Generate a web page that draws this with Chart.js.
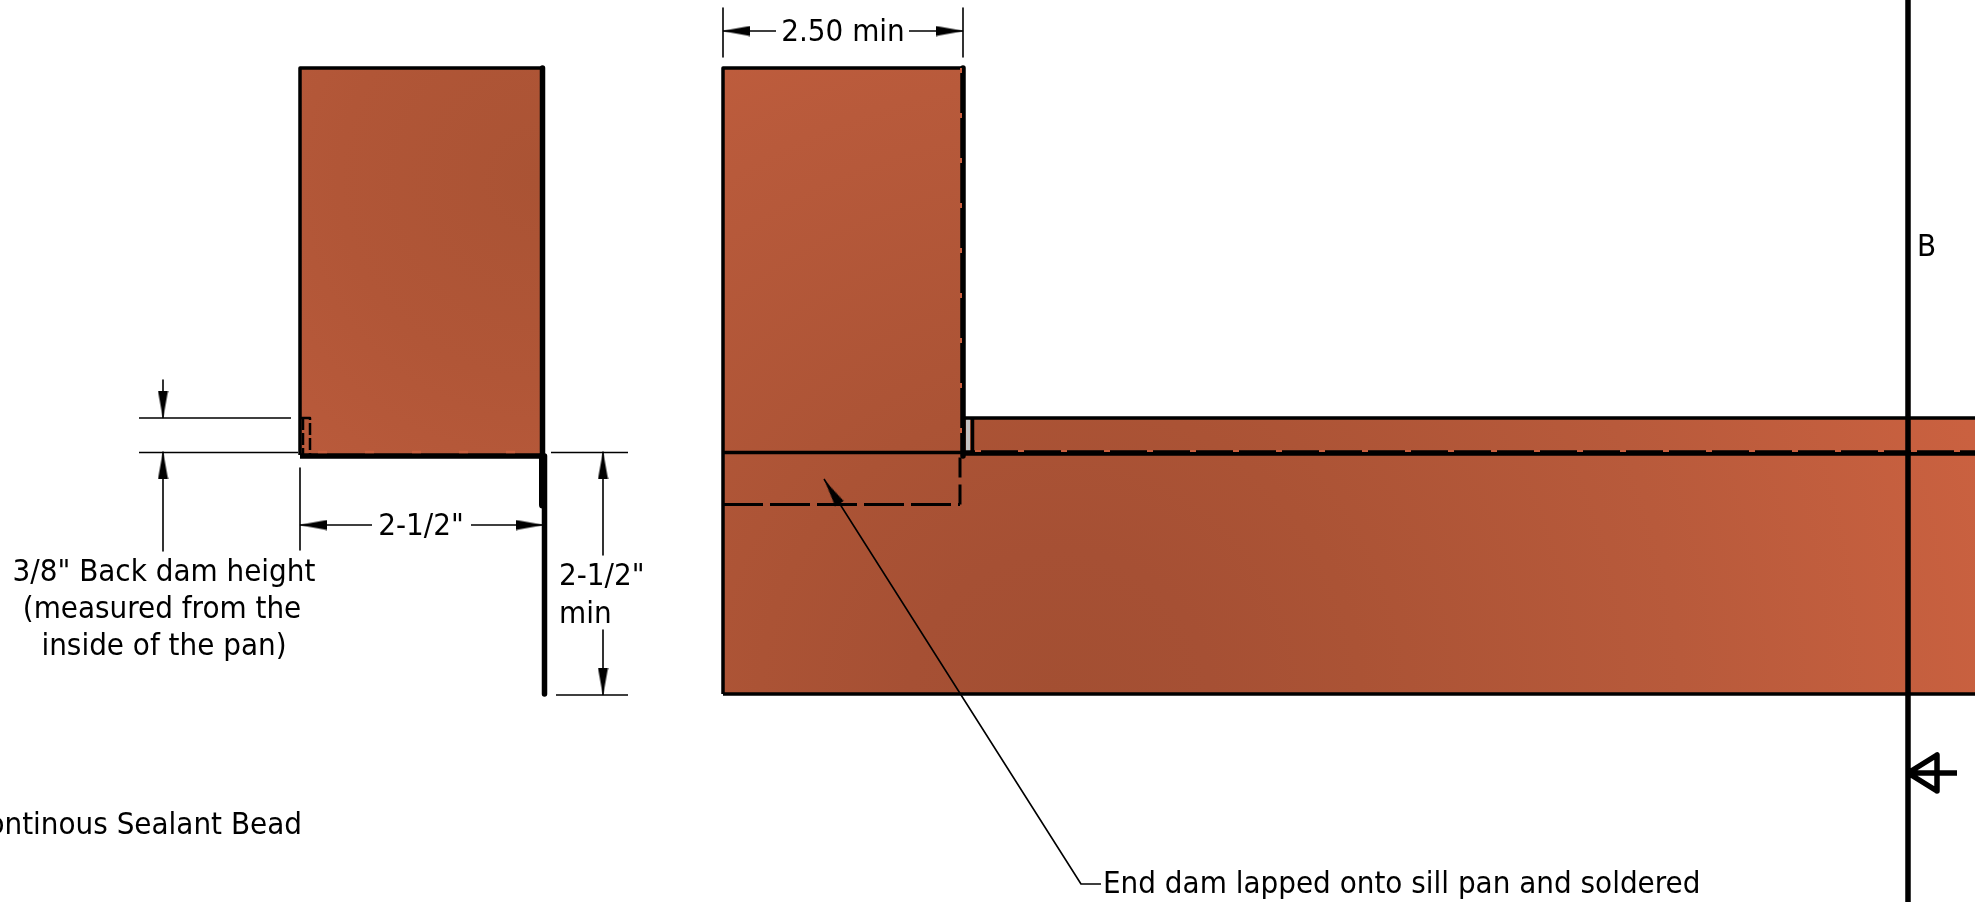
<!DOCTYPE html>
<html>
<head>
<meta charset="utf-8">
<title>Sill pan detail</title>
<script src="https://cdn.jsdelivr.net/npm/chart.js@4/dist/chart.umd.min.js"></script>
<style>
  html, body { margin: 0; padding: 0; background: #ffffff; }
  canvas { display: block; }
</style>
</head>
<body>
<canvas id="detail" width="1975" height="902"></canvas>
<script>
const thinX = [139, 291, null, 139, 298, null, 163, 163, null, 163, 163, null, 300, 300, null, 300, 372, null, 471, 543, null, 551, 628, null, 556, 628, null, 603, 603, null, 603, 603, null, 723, 723, null, 963, 963, null, 723, 776, null, 909, 963, null, 1101, 1081, 824];
const thinY = [418, 418, null, 452.5, 452.5, null, 380, 418, null, 452, 551, null, 468, 550, null, 525, 525, null, 525, 525, null, 452.5, 452.5, null, 695, 695, null, 452, 555, null, 630, 695, null, 8, 57, null, 8, 57, null, 31, 31, null, 31, 31, null, 884, 884, 479];

const outlineX = [300, 300, 543, null, 723, 723, 963, null, 723, 1975, null, 723, 963, null, 965, 1975, null, 972.5, 972.5];
const outlineY = [455, 68, 68, null, 694, 68, 68, null, 694, 694, null, 452.5, 452.5, null, 418, 418, null, 418, 452];

const heavyX = [542.5, 542.5, null, 300, 545, null, 544.5, 544.5, null, 963, 963, null, 963, 1975, null, 1908, 1908, null, 1957, 1908, 1937, 1937, 1908];
const heavyY = [68, 456, null, 456, 456, null, 456, 694, null, 68, 456, null, 453, 453, null, 0, 902, null, 773, 773, 755, 791, 773];

const flangeX = [542.5, 542.5];
const flangeY = [456, 505];

const hiddenDashX = [723, 960];
const hiddenDashY = [504.5, 504.5];
const hiddenEndX = [960, 960];
const hiddenEndY = [504.5, 455];
const backDamDashX = [303, 303, null, 300, 310, 310];
const backDamDashY = [418, 455, null, 418, 418, 455];

const backSolderX = [318, 540];
const backSolderY = [452, 452];
const sillSolderX = [975, 1906, null, 1911, 1975];
const sillSolderY = [451, 451, null, 451, 451];
const endSolderX = [961, 961];
const endSolderY = [68, 450];

const stripX = [968, 968];
const stripY = [420, 451];

const backDamFaceX = [300, 543];
const backDamFaceY = [68, 68];
const backDamFaceBase = 455;
const endDamFaceX = [723, 963, 963, 1975];
const endDamFaceY = [68, 68, 418, 418];
const endDamFaceBase = 694;

// arrow heads: centre of the head and its heading in degrees
const arrowX = [163, 163, 313, 530, 603, 603, 736, 950, 832];
const arrowY = [405, 465, 525, 525, 465, 682, 31, 31, 492];
const arrowHeading = [90, -90, 180, 0, -90, 90, 180, 0, -122.5];

const labelText = ['3/8" Back dam height', '(measured from the', 'inside of the pan)', '2-1/2"', '2-1/2"', 'min', 'Continous Sealant Bead', '2.50 min', 'B', 'End dam lapped onto sill pan and soldered'];
const labelX = [164, 162, 164, 421, 559, 559, 302, 843, 1917, 1103];
const labelY = [573, 610, 647, 527, 577, 615, 826, 33, 248, 885];
const labelAlign = ['center', 'center', 'center', 'center', 'left', 'left', 'right', 'center', 'left', 'left'];

const toPoints = (xs, ys) => xs.map((x, i) => ({ x: x, y: ys[i] }));

const stroke = (xs, ys, width, color, dash) => ({
    data: toPoints(xs, ys),
    showLine: true,
    pointRadius: 0,
    borderColor: color,
    borderWidth: width,
    borderDash: dash || [],
    borderCapStyle: 'butt',
    borderJoinStyle: 'round',
    fill: false,
    tension: 0
});

// Slim filled head, points to the right when heading is 0
const makeArrowHead = () => {
    const head = document.createElement('canvas');
    head.width = 28;
    head.height = 11;
    const g = head.getContext('2d');
    g.fillStyle = '#000000';
    g.beginPath();
    g.moveTo(0, 0.5);
    g.lineTo(28, 5.5);
    g.lineTo(0, 10.5);
    g.closePath();
    g.fill();
    return head;
};

const radial = (cx, cy, stops) => (context) => {
    const { chart } = context;
    if (!chart.chartArea) {
        return stops[1][1]; // scales are not laid out yet
    }
    const px = chart.scales.x.getPixelForValue(cx);
    const py = chart.scales.y.getPixelForValue(cy);
    const outer = stops[stops.length - 1][0];
    const gradient = chart.ctx.createRadialGradient(px, py, 0, px, py, outer);
    stops.forEach(s => gradient.addColorStop(s[0] / outer, s[1]));
    return gradient;
};

const face = (xs, ys, base, color) => ({
    data: toPoints(xs, ys),
    showLine: true,
    pointRadius: 0,
    borderWidth: 0,
    backgroundColor: color,
    fill: { target: { value: base } },
    tension: 0
});

// Text goes through the same scales as the marks
const labelPlugin = {
    id: 'drawingLabels',
    afterDatasetsDraw(chart) {
        const { ctx, scales } = chart;
        ctx.save();
        ctx.fillStyle = '#000000';
        ctx.font = '31px "DejaVu Sans Condensed", "DejaVu Sans"';
        ctx.textBaseline = 'middle';
        labelText.forEach((text, i) => {
            ctx.textAlign = labelAlign[i];
            ctx.fillText(text, scales.x.getPixelForValue(labelX[i]), scales.y.getPixelForValue(labelY[i]));
        });
        ctx.restore();
    }
};

const arrowHead = makeArrowHead();

// Index 0 is drawn last, so the fills sit at the end of the list
new Chart(document.querySelector('#detail'), {
    type: 'scatter',
    data: {
        datasets: [
            {
                data: toPoints(arrowX, arrowY),
                showLine: false,
                pointStyle: arrowHead,
                pointRotation: arrowHeading,
                pointRadius: 14
            },
            stroke(backSolderX, backSolderY, 2.5, '#c9603f', [9, 38]),
            stroke(sillSolderX, sillSolderY, 2, '#c9603f', [6, 37]),
            stroke(endSolderX, endSolderY, 2, '#c9603f', [5, 40]),
            stroke(heavyX, heavyY, 5.5, '#000000'),
            stroke(flangeX, flangeY, 7, '#000000'),
            stroke(thinX, thinY, 1.6, '#000000'),
            stroke(outlineX, outlineY, 3.5, '#000000'),
            stroke(hiddenDashX, hiddenDashY, 3, '#000000', [40, 7]),
            stroke(hiddenEndX, hiddenEndY, 3, '#000000', [20, 7]),
            stroke(backDamDashX, backDamDashY, 2.5, '#000000', [12, 3]),
            stroke(stripX, stripY, 4, '#c4c4c4'),
            face(backDamFaceX, backDamFaceY, backDamFaceBase, radial(540, 180, [[0, '#aa5334'], [200, '#b15637'], [400, '#bb5b3c']])),
            face(endDamFaceX, endDamFaceY, endDamFaceBase, radial(1060, 700, [[0, '#a34f32'], [150, '#a65034'], [300, '#ab5335'], [620, '#b85a3b'], [950, '#ca6140']]))
        ]
    },
    options: {
        responsive: false,
        animation: false,
        layout: { padding: 0, autoPadding: false },
        plugins: {
            legend: { display: false },
            tooltip: { enabled: false }
        },
        scales: {
            x: { type: 'linear', min: 0, max: 1975, display: false },
            y: { type: 'linear', min: 0, max: 902, reverse: true, display: false }
        }
    },
    plugins: [labelPlugin]
});
</script>
</body>
</html>
